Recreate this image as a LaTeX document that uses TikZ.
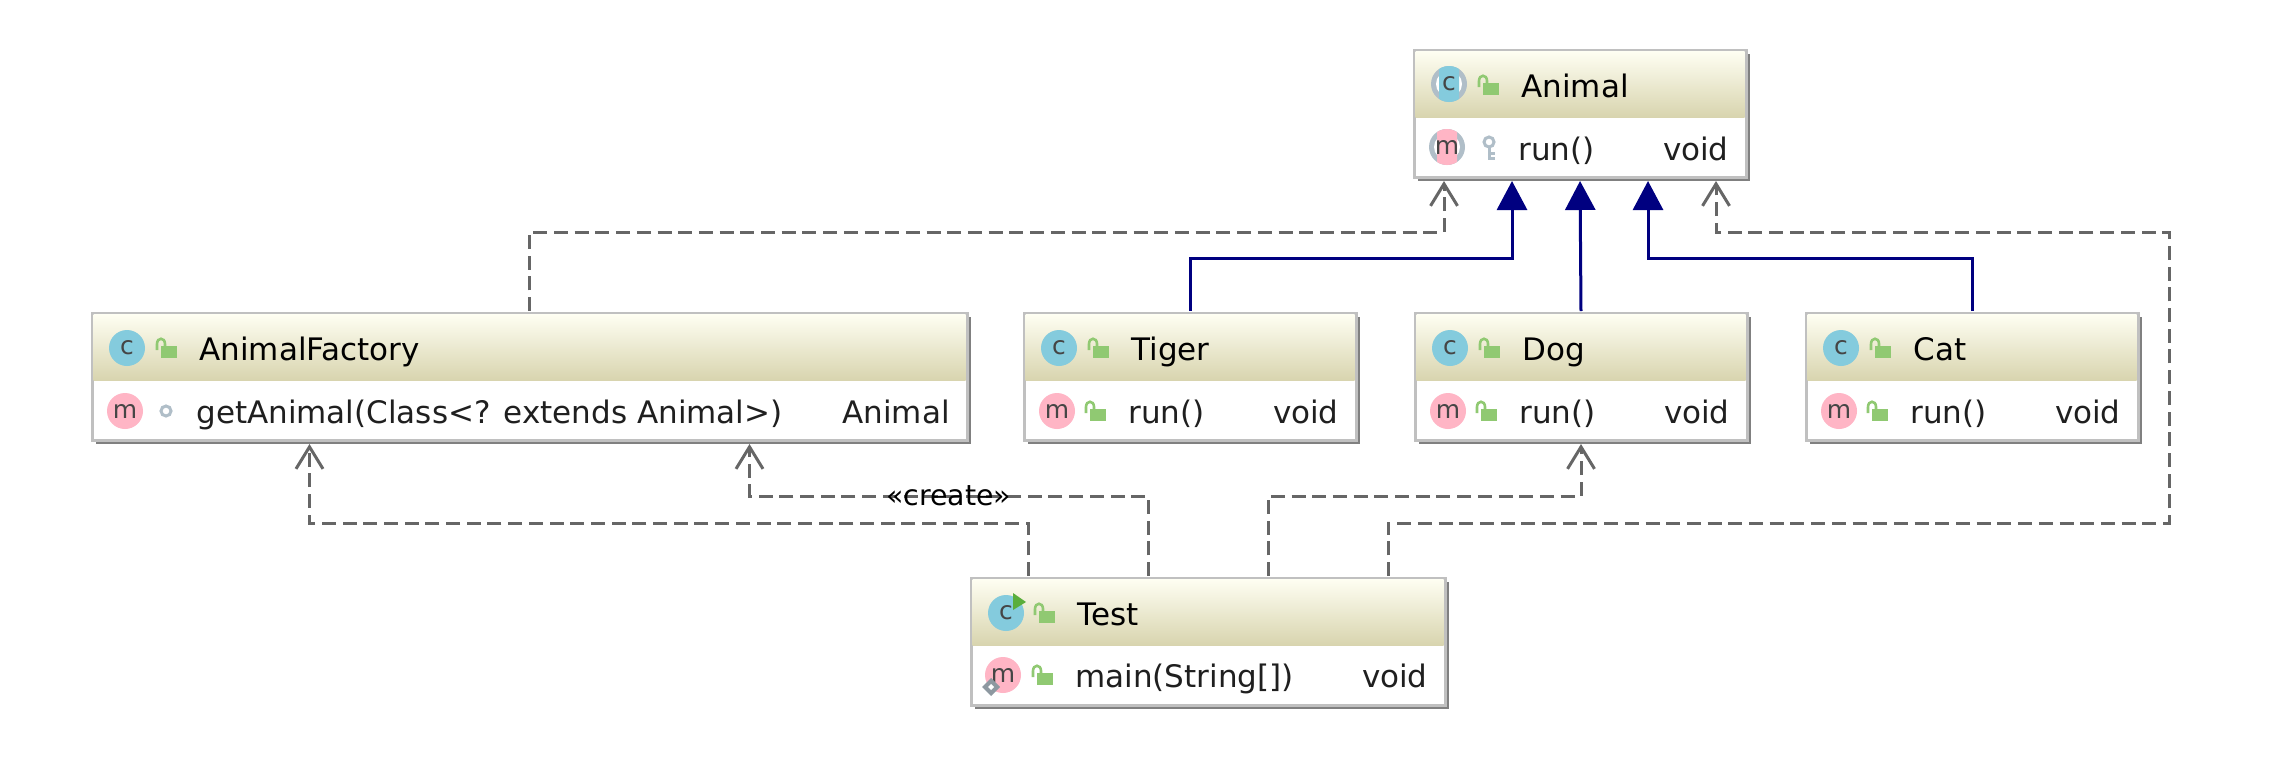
\documentclass[tikz,border=0pt]{standalone}
\usepackage{fontspec}
\setmainfont{DejaVu Sans}
\usetikzlibrary{arrows.meta,shadows}
\definecolor{boxline}{HTML}{C0C0C0}
\definecolor{boxshade}{HTML}{808080}
\definecolor{headtop}{HTML}{FEFEF2}
\definecolor{headbot}{HTML}{D8D4AE}
\definecolor{classblue}{HTML}{84CBDD}
\definecolor{methodpink}{HTML}{FFB5C5}
\definecolor{lockgreen}{HTML}{90C972}
\definecolor{iconink}{HTML}{454545}
\definecolor{markgray}{HTML}{B0BEC8}
\definecolor{depgray}{HTML}{666666}
\definecolor{runarrow}{HTML}{5AAE3C}
\definecolor{extblue}{HTML}{000080}
\tikzset{
  cbox/.style={draw=boxline, line width=1.5pt, fill=white, minimum width=#1, minimum height=63.5pt, inner sep=0pt, outer sep=0pt, drop shadow={shadow xshift=2pt, shadow yshift=-2pt, fill=boxshade, opacity=1}},
  chead/.style={top color=headtop, bottom color=headbot, minimum width=#1, minimum height=33pt, inner sep=0pt, outer sep=0pt},
  cicon/.style={circle, fill=classblue, text=iconink, minimum size=18pt, inner sep=0pt, font=\fontsize{12.5}{12.5}\selectfont},
  micon/.style={circle, fill=methodpink, text=iconink, minimum size=18pt, inner sep=0pt, font=\fontsize{12.5}{12.5}\selectfont},
  bareicon/.style={text=iconink, inner sep=0pt, font=\fontsize{12.5}{12.5}\selectfont},
  ctext/.style={anchor=base west, inner sep=0pt, text=black, font=\fontsize{15.5}{15.5}\selectfont},
  mtext/.style={anchor=base west, inner sep=0pt, text=black!88, font=\fontsize{15.5}{15.5}\selectfont},
  ttext/.style={anchor=base east, inner sep=0pt, text=black!88, font=\fontsize{15.5}{15.5}\selectfont},
  deplabel/.style={inner sep=0pt, text=black, font=\fontsize{14.2}{14.2}\selectfont},
  depline/.style={draw=depgray, line width=1.5pt, dash pattern=on 7pt off 3.35pt, shorten >=2pt, shorten <=1pt, -{Straight Barb[length=11pt,width=13.5pt]}},
  extline/.style={draw=extblue, line width=1.5pt, shorten >=2pt, shorten <=1pt, -{Triangle[length=14.5pt,width=15pt]}},
  pics/openlock/.style={code={
    \fill[lockgreen] (0,0) rectangle (16,-12);
    \draw[lockgreen, line width=1.3pt] (-4,-8) -- (-4,-14) .. controls (-4,-21) and (4,-21) .. (4,-14) -- (4,-11);
  }},
  pics/halfring/.style={code={
    \fill[markgray] (0,0) circle (18);
    \fill[white] (0,0) circle (13);
    \begin{scope}
      \clip (-10,-18) rectangle (10,18);
      \fill[#1] (0,0) circle (18);
    \end{scope}
  }},
  pics/keymark/.style={code={
    \draw[markgray, line width=1.5pt] (0,0) circle (5);
    \draw[markgray, line width=1.5pt] (0,5) -- (0,18);
    \draw[markgray, line width=1.5pt] (0,11) -- (6,11);
    \draw[markgray, line width=1.5pt] (0,16) -- (6,16);
  }},
  pics/pkgmark/.style={code={
    \draw[markgray, line width=1.5pt] (0,0) circle (5);
  }},
  pics/staticmark/.style={code={
    \fill[markgray!80!black] (-9,0) -- (0,-9) -- (9,0) -- (0,9) -- cycle;
    \fill[white] (-3,0) -- (0,-3) -- (3,0) -- (0,3) -- cycle;
  }}
}
\begin{document}
\begin{tikzpicture}[x=.5pt, y=-.5pt]
\useasboundingbox (0,0) rectangle (2284,782);
\node[cbox=166pt] (animal) at (1580,113.5){};
\node[chead=164.5pt] (animalhd) at (1580,84.5){};
\pic at (1449,84) {halfring=classblue};
\node[bareicon] (animalc) at (1449,84){c};
\pic at (1483,95) {openlock};
\node[ctext] (animaltxt) at (1521,97){Animal};
\pic at (1447,147) {halfring=methodpink};
\node[bareicon] (animalm) at (1447,147){m};
\pic at (1489,142) {keymark};
\node[mtext] (animalrun) at (1518,160){run()};
\node[ttext] (animalvoid) at (1729,160){void};
\node[cbox=437.5pt] (factory) at (529.5,376.5){};
\node[chead=436pt] (factoryhd) at (529.5,347.5){};
\node[cicon] (factoryc) at (127,348){c};
\pic at (161,358) {openlock};
\node[ctext] (factorytxt) at (199,360){AnimalFactory};
\node[micon] (factorym) at (125,411){m};
\pic at (166,411) {pkgmark};
\node[mtext] (factoryget) at (196,423){getAnimal(Class<? extends Animal>)};
\node[ttext] (factorytype) at (950,423){Animal};
\node[cbox=166pt] (tiger) at (1190,376.5){};
\node[chead=164.5pt] (tigerhd) at (1190,347.5){};
\node[cicon] (tigerc) at (1059,348){c};
\pic at (1093,358) {openlock};
\node[ctext] (tigertxt) at (1131,360){Tiger};
\node[micon] (tigerm) at (1057,411){m};
\pic at (1090,421) {openlock};
\node[mtext] (tigerrun) at (1128,423){run()};
\node[ttext] (tigervoid) at (1339,423){void};
\node[cbox=166pt] (dog) at (1581,376.5){};
\node[chead=164.5pt] (doghd) at (1581,347.5){};
\node[cicon] (dogc) at (1450,348){c};
\pic at (1484,358) {openlock};
\node[ctext] (dogtxt) at (1522,360){Dog};
\node[micon] (dogm) at (1448,411){m};
\pic at (1481,421) {openlock};
\node[mtext] (dogrun) at (1519,423){run()};
\node[ttext] (dogvoid) at (1730,423){void};
\node[cbox=166pt] (cat) at (1972,376.5){};
\node[chead=164.5pt] (cathd) at (1972,347.5){};
\node[cicon] (catc) at (1841,348){c};
\pic at (1875,358) {openlock};
\node[ctext] (cattxt) at (1913,360){Cat};
\node[micon] (catm) at (1839,411){m};
\pic at (1872,421) {openlock};
\node[mtext] (catrun) at (1910,423){run()};
\node[ttext] (catvoid) at (2121,423){void};
\node[cbox=237pt] (test) at (1208,641.5){};
\node[chead=235.5pt] (testhd) at (1208,612.5){};
\node[cicon] (testc) at (1006,613){c};
\fill[runarrow] (1013,593) -- (1026,602) -- (1013,610) -- cycle;
\pic at (1039,623) {openlock};
\node[ctext] (testtxt) at (1077,625){Test};
\node[micon] (testm) at (1003,675){m};
\pic at (991,687) {staticmark};
\pic at (1037,685) {openlock};
\node[mtext] (testmain) at (1075,687){main(String[])};
\node[ttext] (testvoid) at (1428,687){void};
\draw[depline] (factory.north) -- (factory.north |- 0,232) -| ([xshift=-68pt]animal.south);
\draw[extline] (tiger.north) -- (tiger.north |- 0,258) -| ([xshift=-34pt]animal.south);
\draw[extline] (dog.north) -- (animal.south);
\draw[extline] (cat.north) -- (cat.north |- 0,258) -| ([xshift=34pt]animal.south);
\draw[depline] ([xshift=-90pt]test.north) -- ([xshift=-90pt]test.north |- 0,523) -| ([xshift=-110pt]factory.south);
\draw[depline] ([xshift=-30pt]test.north) -- ([xshift=-30pt]test.north |- 0,496) -- node[deplabel] (createlbl) {«create»} ([xshift=110pt]factory.south |- 0,496) -- ([xshift=110pt]factory.south);
\draw[depline] ([xshift=30pt]test.north) -- ([xshift=30pt]test.north |- 0,496) -| (dog.south);
\draw[depline] ([xshift=90pt]test.north) -- ([xshift=90pt]test.north |- 0,523) -- (2169,523) -- (2169,232) -| ([xshift=68pt]animal.south);
\end{tikzpicture}
\end{document}
